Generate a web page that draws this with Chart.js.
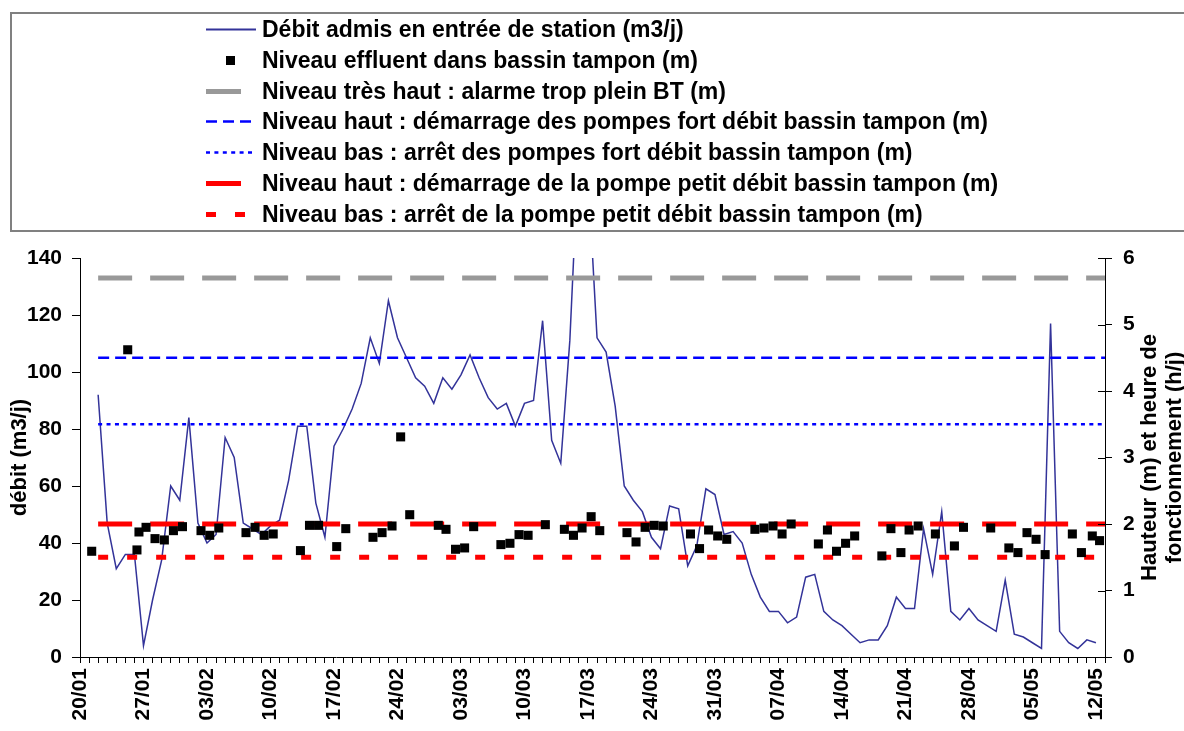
<!DOCTYPE html>
<html>
<head>
<meta charset="utf-8">
<script src="https://cdn.jsdelivr.net/npm/chart.js@4.4.1/dist/chart.umd.min.js"></script>
<style>
  body { margin: 0; background: #fff; font-family: "Liberation Sans", Arial, sans-serif; }
  #wrap { position: relative; width: 1184px; height: 731px; overflow: hidden; }
  #chart { position: absolute; left: 0; top: 0; }
  #legend {
    position: absolute; left: 10px; top: 12px; width: 1200px; height: 216px;
    border: 2px solid #808080; box-sizing: content-box;
  }
  .row { position: absolute; left: 0; height: 31px; display: flex; align-items: center; }
  .row svg { position: absolute; left: 194px; top: 0; }
  .row span { position: absolute; left: 250px; white-space: nowrap; font-weight: bold; font-size: 23px; color: #000; line-height: 31px; }
</style>
</head>
<body>
<div id="wrap">
  <canvas id="chart" width="1184" height="731"></canvas>
  <div id="legend"></div>
</div>
<script>
// Tick labels (one every 7 days, day 0 = 20/01)
const tickLabels = ['20/01', '27/01', '03/02', '10/02', '17/02', '24/02', '03/03', '10/03',
    '17/03', '24/03', '31/03', '07/04', '14/04', '21/04', '28/04', '05/05', '12/05'];
const lastDay = 113;

// Débit admis en entrée de station (m3/j), one value per day from 20/01
const debit = [null, null, 92, 47, 31, 36, 36, 4, 20, 34,
    60, 55, 84, 47, 40, 43, 77, 70, 47, 45,
    43, 46, 48, 62, 81, 81, 54, 42, 74, 80,
    87, 96, 112, 103, 125, 112, 105, 98, 95, 89,
    98, 94, 99, 106, 98, 91, 87, 89, 81, 89,
    90, 118, 76, 68, 111, 180, 170, 112, 107, 88,
    60, 55, 51, 42, 38, 53, 52, 32, 39, 59,
    57, 43, 44, 40, 29, 21, 16, 16, 12, 14,
    28, 29, 16, 13, 11, 8, 5, 6, 6, 11,
    21, 17, 17, 45, 29, 51, 16, 13, 17, 13,
    11, 9, 27, 8, 7, 5, 3, 117, 9, 5,
    3, 6, 5];

// Niveau effluent dans bassin tampon (m): time of the reading (days since 20/01) and level
const niveauJour = [1.29, 5.26, 6.28, 6.5, 7.28, 8.27, 9.3, 10.3, 11.3, 13.34,
    14.3, 15.3, 18.3, 19.3, 20.3, 21.3, 24.3, 25.3, 26.3, 28.3,
    29.3, 32.3, 33.3, 34.4, 35.35, 36.35, 39.5, 40.35, 41.4, 42.4,
    43.4, 46.4, 47.4, 48.4, 49.4, 51.3, 53.4, 54.4, 55.35, 56.35,
    57.3, 60.3, 61.3, 62.3, 63.3, 64.3, 67.3, 68.3, 69.3, 70.3,
    71.3, 74.4, 75.4, 76.4, 77.4, 78.4, 81.4, 82.4, 83.4, 84.4,
    85.4, 88.4, 89.4, 90.5, 91.4, 92.4, 94.3, 96.4, 97.4, 100.4,
    102.4, 103.4, 104.4, 105.4, 106.4, 109.4, 110.4, 111.6, 112.4];
const niveau = [1.59, 4.62, 1.61, 1.88, 1.95, 1.78, 1.76, 1.90, 1.96, 1.90,
    1.83, 1.94, 1.87, 1.95, 1.83, 1.85, 1.60, 1.98, 1.98, 1.66,
    1.93, 1.80, 1.87, 1.97, 3.31, 2.14, 1.98, 1.92, 1.62, 1.64,
    1.96, 1.69, 1.71, 1.84, 1.83, 1.99, 1.92, 1.83, 1.94, 2.11,
    1.90, 1.87, 1.73, 1.95, 1.98, 1.97, 1.85, 1.63, 1.91, 1.82,
    1.77, 1.92, 1.94, 1.97, 1.85, 2.00, 1.70, 1.91, 1.59, 1.71,
    1.82, 1.52, 1.93, 1.57, 1.91, 1.97, 1.85, 1.67, 1.95, 1.94,
    1.64, 1.57, 1.87, 1.77, 1.54, 1.85, 1.57, 1.82, 1.75];

// Seuils du bassin tampon (m), drawn from day 2 to the end of the axis
const seuilDebut = 2;
const seuilLabels = [
    'Niveau très haut : alarme trop plein BT (m)',
    'Niveau haut : démarrage des pompes fort débit bassin tampon (m)',
    'Niveau bas : arrêt des pompes fort débit bassin tampon (m)',
    'Niveau haut : démarrage de la pompe petit débit bassin tampon (m)',
    'Niveau bas : arrêt de la pompe petit débit bassin tampon (m)'
];
const seuilValeurs = [5.7, 4.5, 3.5, 2.0, 1.5];
const seuilStyles = [
    { color: '#999999', width: 5, dash: [34, 18] },
    { color: '#0000FF', width: 2.5, dash: [11, 6] },
    { color: '#0000FF', width: 2.5, dash: [4, 4.4] },
    { color: '#FF0000', width: 5, dash: [34, 18] },
    { color: '#FF0000', width: 5, dash: [10, 19] }
];

const FONT = '"Liberation Sans", Arial, sans-serif';

// Build datasets
const datasets = [];
datasets.push({
    label: 'Débit admis en entrée de station (m3/j)',
    data: debit.map((v, i) => ({ x: i, y: v })),
    yAxisID: 'y',
    borderColor: '#333399',
    borderWidth: 1.5,
    pointRadius: 0,
    spanGaps: false,
    order: 3
});
datasets.push({
    label: 'Niveau effluent dans bassin tampon (m)',
    data: niveauJour.map((d, i) => ({ x: d, y: niveau[i] })),
    yAxisID: 'y1',
    showLine: false,
    pointStyle: 'rect',
    pointRadius: 6.4,
    pointHoverRadius: 6.4,
    backgroundColor: '#000',
    borderColor: '#000',
    borderWidth: 0,
    order: 0
});
seuilValeurs.forEach((v, i) => {
    datasets.push({
        label: seuilLabels[i],
        data: [{ x: seuilDebut, y: v }, { x: lastDay, y: v }],
        yAxisID: 'y1',
        borderColor: seuilStyles[i].color,
        borderWidth: seuilStyles[i].width,
        borderDash: seuilStyles[i].dash,
        borderCapStyle: 'butt',
        pointRadius: 0,
        order: 2
    });
});

// Axis titles (right one reads bottom to top like the left one)
const axisTitles = {
    id: 'axisTitles',
    afterDraw(chart) {
        const { ctx, chartArea } = chart;
        const cy = (chartArea.top + chartArea.bottom) / 2;
        ctx.save();
        ctx.fillStyle = '#000';
        ctx.font = 'bold 22px ' + FONT;
        ctx.textAlign = 'center';
        ctx.textBaseline = 'middle';
        ctx.translate(chartArea.left - 60, cy);
        ctx.rotate(-Math.PI / 2);
        ctx.fillText('débit (m3/j)', 0, 0);
        ctx.restore();

        ctx.save();
        ctx.fillStyle = '#000';
        ctx.font = 'bold 22px ' + FONT;
        ctx.textAlign = 'center';
        ctx.textBaseline = 'middle';
        ctx.translate(chartArea.right + 45, cy);
        ctx.rotate(-Math.PI / 2);
        ctx.fillText('Hauteur (m) et heure de', 0, 0);
        ctx.fillText('fonctionnement (h/j)', 0, 25);
        ctx.restore();

        // right axis ticks cross the axis line
        const y1 = chart.scales.y1;
        ctx.save();
        ctx.strokeStyle = '#000';
        ctx.lineWidth = 1;
        y1.ticks.forEach(t => {
            const py = Math.round(y1.getPixelForValue(t.value)) + 0.5;
            ctx.beginPath();
            ctx.moveTo(chartArea.right - 7, py);
            ctx.lineTo(chartArea.right, py);
            ctx.stroke();
        });
        ctx.restore();
    }
};

const tickFont = { family: FONT, size: 21, weight: 'bold' };

const chart = new Chart(document.getElementById('chart'), {
    type: 'line',
    data: { datasets },
    options: {
        responsive: false,
        animation: false,
        events: [],
        layout: { padding: { top: 258, left: 0, right: 0, bottom: 0 } },
        plugins: { legend: { display: false }, tooltip: { enabled: false } },
        scales: {
            x: {
                type: 'linear',
                min: 0,
                max: lastDay,
                afterBuildTicks(scale) {
                    scale.ticks = [];
                    for (let d = 0; d <= lastDay; d++) scale.ticks.push({ value: d });
                },
                afterFit(scale) { scale.height = 74; },
                ticks: {
                    autoSkip: false,
                    minRotation: 90,
                    maxRotation: 90,
                    padding: 5,
                    color: '#000',
                    font: tickFont,
                    callback: (v) => (v % 7 === 0 ? tickLabels[v / 7] : '')
                },
                grid: { drawOnChartArea: false, tickLength: 6, color: '#000' },
                border: { color: '#000', width: 1 }
            },
            y: {
                position: 'left',
                min: 0,
                max: 140,
                afterFit(scale) { scale.width = 80; },
                ticks: { stepSize: 20, padding: 10, color: '#000', font: tickFont },
                grid: { drawOnChartArea: false, tickLength: 8, color: '#000' },
                border: { color: '#000', width: 1 }
            },
            y1: {
                position: 'right',
                min: 0,
                max: 6,
                afterFit(scale) { scale.width = 79; },
                ticks: { stepSize: 1, padding: 11, color: '#000', font: tickFont },
                grid: { drawOnChartArea: false, tickLength: 7, color: '#000' },
                border: { color: '#000', width: 1 }
            }
        }
    },
    plugins: [axisTitles]
});

// HTML legend built from the datasets
const legend = document.getElementById('legend');
const rowTop = 0;
const rowStep = 30.8;
chart.data.datasets.forEach((ds, i) => {
    const row = document.createElement('div');
    row.className = 'row';
    row.style.top = (rowTop + i * rowStep) + 'px';
    let sample;
    if (i === 0) {
        sample = `<line x1="0" y1="15.5" x2="50" y2="15.5" stroke="${ds.borderColor}" stroke-width="2"/>`;
    } else if (i === 1) {
        sample = `<rect x="20" y="11" width="9" height="9" fill="#000"/>`;
    } else {
        const st = seuilStyles[i - 2];
        const len = st.width >= 5 ? 35 : 50;
        const dash = st.width >= 5 && st.dash[0] > 20 ? 'none' : st.dash.join(',');
        const x2 = i === 6 ? 40 : len;
        sample = `<line x1="0" y1="15.5" x2="${x2}" y2="15.5" stroke="${st.color}" stroke-width="${st.width}" stroke-dasharray="${dash}"/>`;
    }
    row.innerHTML = `<svg width="56" height="31">${sample}</svg><span>${ds.label}</span>`;
    legend.appendChild(row);
});
</script>
</body>
</html>
